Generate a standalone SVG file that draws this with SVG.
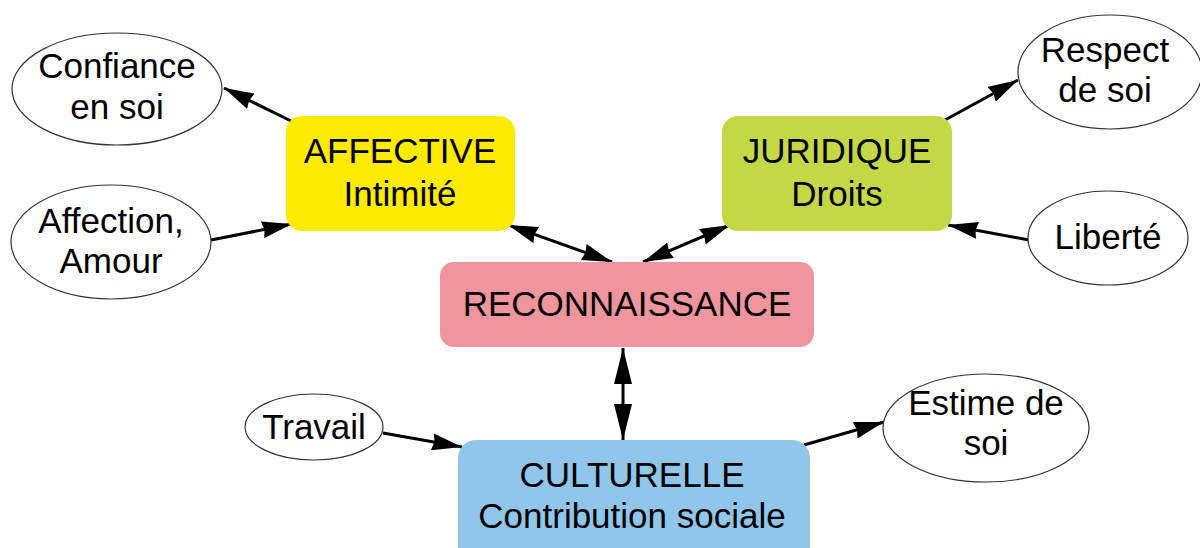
<svg xmlns="http://www.w3.org/2000/svg" width="1200" height="548" viewBox="0 0 1200 548">
<defs>
<style>
text{font-family:"Liberation Sans",Arial,sans-serif;font-size:35px;fill:#000;text-anchor:middle}
.ell{fill:#fff;stroke:#333;stroke-width:1.2}
.con{stroke:#000;stroke-width:3;fill:none}
</style>
<marker id="ah" viewBox="0 0 30 17" refX="30" refY="8.5" markerWidth="30" markerHeight="17" markerUnits="userSpaceOnUse" orient="auto-start-reverse">
<path d="M0,0 L30,8.5 L0,17 L2,8.5 Z" fill="#000"/>
</marker>
<marker id="ahv" viewBox="0 0 36 18" refX="36" refY="9" markerWidth="36" markerHeight="18" markerUnits="userSpaceOnUse" orient="auto-start-reverse">
<path d="M0,0 L36,9 L0,18 Z" fill="#000"/>
</marker>
</defs>
<rect width="1200" height="548" fill="#fff"/>
<g id="connectors">
<line class="con" x1="291" y1="121" x2="224" y2="88" marker-end="url(#ah)"/>
<line class="con" x1="211" y1="240" x2="292" y2="224" marker-end="url(#ah)"/>
<line class="con" x1="508" y1="225" x2="612" y2="262" marker-start="url(#ah)" marker-end="url(#ah)"/>
<line class="con" x1="643" y1="262" x2="730" y2="225" marker-start="url(#ah)" marker-end="url(#ah)"/>
<line class="con" x1="945" y1="120" x2="1018" y2="80" marker-end="url(#ah)"/>
<line class="con" x1="1029" y1="240" x2="948" y2="225" marker-end="url(#ah)"/>
<line class="con" x1="623" y1="348" x2="623" y2="440" marker-start="url(#ahv)" marker-end="url(#ahv)"/>
<line class="con" x1="383" y1="433" x2="462" y2="447" marker-end="url(#ah)"/>
<line class="con" x1="804" y1="445" x2="884" y2="422" marker-end="url(#ah)"/>
</g>
<g id="affective">
<rect x="286" y="116" width="229" height="115" rx="16" fill="#FFEB00"/>
<text x="400" y="163">AFFECTIVE</text>
<text x="400" y="206">Intimité</text>
</g>
<g id="juridique">
<rect x="722" y="116" width="230" height="115" rx="16" fill="#C4D846"/>
<text x="837" y="163">JURIDIQUE</text>
<text x="837" y="206">Droits</text>
</g>
<g id="reconnaissance">
<rect x="440" y="262" width="374" height="85" rx="14" fill="#F0949E"/>
<text x="627" y="316">RECONNAISSANCE</text>
</g>
<g id="culturelle">
<rect x="458" y="440" width="352" height="125" rx="18" fill="#8FC6EA"/>
<text x="632" y="487">CULTURELLE</text>
<text x="632" y="528">Contribution sociale</text>
</g>
<g id="confiance">
<ellipse class="ell" cx="117" cy="89" rx="105" ry="56"/>
<text x="117" y="78">Confiance</text>
<text x="117" y="119">en soi</text>
</g>
<g id="affection">
<ellipse class="ell" cx="111" cy="242" rx="100" ry="57"/>
<text x="111" y="233">Affection,</text>
<text x="111" y="273">Amour</text>
</g>
<g id="respect">
<ellipse class="ell" cx="1110" cy="72" rx="92" ry="57"/>
<text x="1105" y="62">Respect</text>
<text x="1105" y="102">de soi</text>
</g>
<g id="liberte">
<ellipse class="ell" cx="1108" cy="238" rx="80" ry="47"/>
<text x="1108" y="249">Liberté</text>
</g>
<g id="travail">
<ellipse class="ell" cx="314" cy="427" rx="69" ry="33"/>
<text x="314" y="439">Travail</text>
</g>
<g id="estime">
<ellipse class="ell" cx="986" cy="428" rx="103" ry="54"/>
<text x="986" y="415">Estime de</text>
<text x="986" y="455">soi</text>
</g>
</svg>
